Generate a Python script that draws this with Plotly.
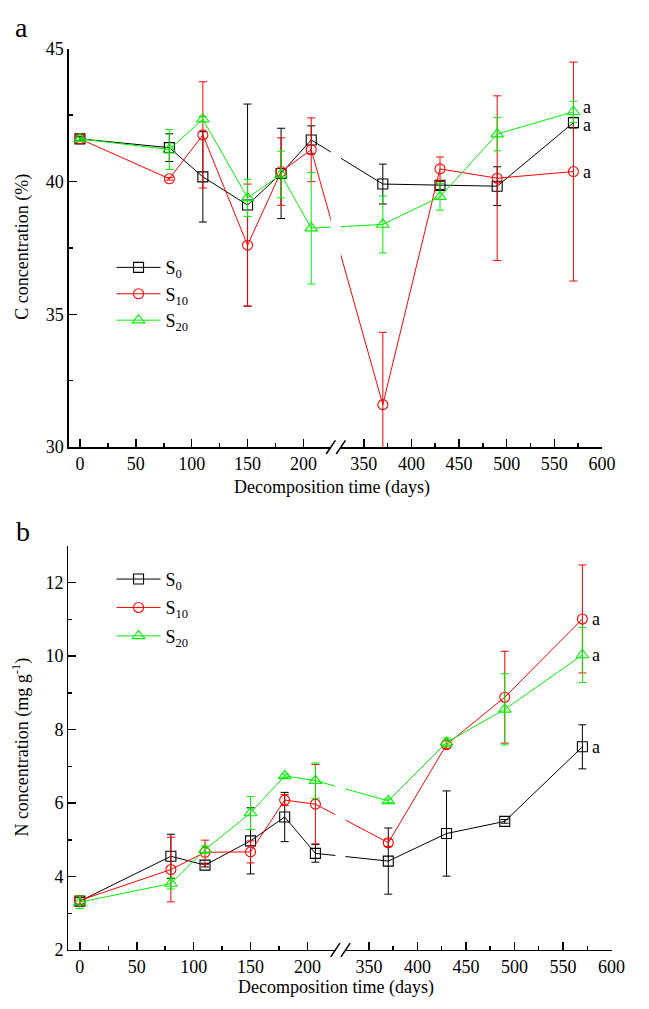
import plotly.graph_objects as go

# ---------------- data ----------------
days = [0, 80, 110, 150, 180, 207, 370, 430, 490, 570]

c_s0 = [41.6, 41.27, 40.17, 39.11, 40.30, 41.56, 39.90, 39.85, 39.82, 42.21]
c_s0_err = [0.10, 0.52, 1.70, 3.80, 1.70, 0.53, 0.75, 0.15, 0.73, 0.20]
c_s10 = [41.6, 40.10, 41.75, 37.60, 40.37, 41.19, 31.60, 40.47, 40.12, 40.37]
c_s10_err = [0.05, 0.05, 2.00, 2.30, 1.27, 1.20, 2.72, 0.45, 3.10, 4.12]
c_s20 = [41.6, 41.20, 42.34, 39.38, 40.26, 38.24, 38.38, 39.42, 41.78, 42.62]
c_s20_err = [0.05, 0.75, 0.10, 0.70, 0.88, 2.10, 1.07, 0.50, 0.63, 0.40]

n_s0 = [3.33, 4.55, 4.31, 4.97, 5.62, 4.63, 4.42, 5.17, 5.50, 7.53]
n_s0_err = [0.10, 0.60, 0.05, 0.90, 0.67, 0.24, 0.90, 1.16, 0.05, 0.60]
n_s10 = [3.35, 4.19, 4.66, 4.67, 6.08, 5.97, 4.92, 7.59, 8.88, 11.01]
n_s10_err = [0.10, 0.88, 0.33, 0.30, 0.15, 1.08, 0.10, 0.10, 1.25, 1.47]
n_s20 = [3.30, 3.81, 4.73, 5.73, 6.74, 6.61, 6.06, 7.65, 8.55, 10.03]
n_s20_err = [0.17, 0.15, 0.10, 0.45, 0.05, 0.48, 0.05, 0.12, 0.97, 0.75]

series_names = ["S<sub>0</sub>", "S<sub>10</sub>", "S<sub>20</sub>"]
series_colors = ["#000000", "#FF0000", "#00F000"]
series_symbols = ["square-open", "circle-open", "triangle-up-open"]
end_letters_c = ["a", "a", "a"]
end_letters_n = ["a", "a", "a"]

ticks_left = [0, 50, 100, 150, 200]
ticks_right = [350, 400, 450, 500, 550, 600]
minor_left = [25, 75, 125, 175]
minor_right = [375, 425, 475, 525, 575]

# ---------------- broken axis transform ----------------
BREAK_A = 224.5
BREAK_B = 233.5


def tx(d):
    return d if d <= 230 else 254.0 + 0.853 * (d - 350)


FONT = "Liberation Serif"
W, H = 649, 1009
XRANGE = [-10, tx(600)]
XDOM_A = [70.3 / W, 615.3 / W]
XDOM_B = [70 / W, 625 / W]
YDOM_A = [1 - 446 / H, 1 - 39.3 / H]
YDOM_B = [1 - 959 / H, 1 - 546.7 / H]

fig = go.Figure()

panels = [
    dict(vals=[c_s0, c_s10, c_s20], errs=[c_s0_err, c_s10_err, c_s20_err],
         xa="x", ya="y", legend="legend", letters=end_letters_c,
         yshift=[-2, 0, 5], groups=["ga", "ga", "ga"]),
    dict(vals=[n_s0, n_s10, n_s20], errs=[n_s0_err, n_s10_err, n_s20_err],
         xa="x2", ya="y2", legend="legend2", letters=end_letters_n,
         yshift=[0, 0, 0], groups=["gb0", "gb1", "gb2"]),
]

xt = [tx(d) for d in days]
annotations = []
for pi, p in enumerate(panels):
    for i in range(3):
        fig.add_trace(go.Scatter(
            x=xt, y=p["vals"][i], mode="lines+markers", name=series_names[i],
            xaxis=p["xa"], yaxis=p["ya"], legend=p["legend"],
            legendgroup=p["groups"][i],
            line=dict(color=series_colors[i], width=1),
            marker=dict(symbol=series_symbols[i], size=10 if i < 2 else 11,
                        color=series_colors[i], line=dict(width=1.1)),
            error_y=dict(type="data", array=p["errs"][i], color=series_colors[i],
                         thickness=1, width=4),
        ))
    for i in range(3):
        annotations.append(dict(
            x=xt[-1], y=p["vals"][i][-1], xref=p["xa"], yref=p["ya"],
            text=p["letters"][i], showarrow=False, xanchor="left", yanchor="middle",
            xshift=8, yshift=p["yshift"][i],
            font=dict(family=FONT, size=18, color="black")))

tickvals = [tx(v) for v in ticks_left + ticks_right]
ticktext = [str(v) for v in ticks_left + ticks_right]
minorvals = [tx(v) for v in minor_left + minor_right]

xcommon = dict(range=XRANGE, tickvals=tickvals, ticktext=ticktext,
               ticks="inside", ticklen=8, tickwidth=1.5, tickcolor="black",
               minor=dict(tickvals=minorvals, ticks="inside", ticklen=4,
                          tickwidth=1.5, tickcolor="black"),
               showline=True, linewidth=1.5, linecolor="black",
               showgrid=False, zeroline=False,
               tickfont=dict(family=FONT, size=18, color="black"))
ycommon = dict(ticks="inside", ticklen=8, tickwidth=1.5, tickcolor="black",
               showline=True, linewidth=1.5, linecolor="black",
               showgrid=False, zeroline=False,
               tickfont=dict(family=FONT, size=18, color="black"))

fig.update_layout(
    width=W, height=H, margin=dict(l=0, r=0, t=0, b=0),
    paper_bgcolor="white", plot_bgcolor="white",
    font=dict(family=FONT, size=18, color="black"),
    xaxis=dict(domain=XDOM_A, anchor="y", **xcommon),
    yaxis=dict(domain=YDOM_A, anchor="x", range=[30, 45],
               tickvals=[30, 35, 40, 45],
               minor=dict(tickvals=[32.5, 37.5, 42.5], ticks="inside", ticklen=4,
                          tickwidth=1.5, tickcolor="black"), **ycommon),
    xaxis2=dict(domain=XDOM_B, anchor="y2", **xcommon),
    yaxis2=dict(domain=YDOM_B, anchor="x2", range=[2, 13],
                tickvals=[2, 4, 6, 8, 10, 12],
                minor=dict(tickvals=[3, 5, 7, 9, 11, 13], ticks="inside", ticklen=4,
                           tickwidth=1.5, tickcolor="black"), **ycommon),
    legend=dict(x=114 / W, y=1 - 244 / H, xanchor="left", yanchor="top",
                bgcolor="rgba(0,0,0,0)", tracegroupgap=0, itemwidth=44,
                font=dict(family=FONT, size=18, color="black")),
    legend2=dict(x=114 / W, y=1 - 562 / H, xanchor="left", yanchor="top",
                 bgcolor="rgba(0,0,0,0)", tracegroupgap=2, itemwidth=44,
                 font=dict(family=FONT, size=18, color="black")),
    showlegend=True,
)

# axis titles and panel labels
annotations += [
    dict(text="a", x=13 / W, y=1 - 18 / H, xref="paper", yref="paper",
         xanchor="left", yanchor="middle", showarrow=False,
         font=dict(family=FONT, size=28)),
    dict(text="b", x=14 / W, y=1 - 532 / H, xref="paper", yref="paper",
         xanchor="left", yanchor="middle", showarrow=False,
         font=dict(family=FONT, size=28)),
    dict(text="C concentration (%)", x=23 / W, y=1 - 242 / H, xref="paper", yref="paper",
         textangle=-90, xanchor="center", yanchor="middle", showarrow=False,
         font=dict(family=FONT, size=18)),
    dict(text="N concentration (mg g<sup>-1</sup>)", x=22 / W, y=1 - 752 / H,
         xref="paper", yref="paper",
         textangle=-90, xanchor="center", yanchor="middle", showarrow=False,
         font=dict(family=FONT, size=18)),
    dict(text="Decomposition time (days)", x=339 / W, y=1 - 487 / H, xref="paper",
         yref="paper", xanchor="center", yanchor="middle", showarrow=False,
         font=dict(family=FONT, size=18)),
    dict(text="Decomposition time (days)", x=343 / W, y=1 - 997 / H, xref="paper",
         yref="paper", xanchor="center", yanchor="middle", showarrow=False,
         font=dict(family=FONT, size=18)),
]
fig.update_layout(annotations=annotations)


def paper_x(t, dom):
    return dom[0] + (t - XRANGE[0]) / (XRANGE[1] - XRANGE[0]) * (dom[1] - dom[0])


# axis break: gap + two slashes
shapes = []
for xa, ya, xdom, ydom in [("x", "y", XDOM_A, YDOM_A), ("x2", "y2", XDOM_B, YDOM_B)]:
    shapes.append(dict(type="rect", xref=xa, yref=f"{ya} domain",
                       x0=BREAK_A, x1=BREAK_B, y0=-0.012, y1=1.0,
                       fillcolor="white", line=dict(width=0), layer="above"))
    for xb in (BREAK_A, BREAK_B):
        cx = paper_x(xb, xdom)
        shapes.append(dict(type="line", xref="paper", yref="paper",
                           x0=cx - 4.7 / W, x1=cx + 4.7 / W,
                           y0=ydom[0] - 7 / H, y1=ydom[0] + 7 / H,
                           line=dict(color="black", width=1.5), layer="above"))
fig.update_layout(shapes=shapes)

fig.write_html(
    "out.html",
    config={"staticPlot": True, "displayModeBar": False},
    post_script="document.body.style.margin='0px';"
                "document.body.style.padding='0px';"
                "document.documentElement.style.overflow='hidden';",
)
